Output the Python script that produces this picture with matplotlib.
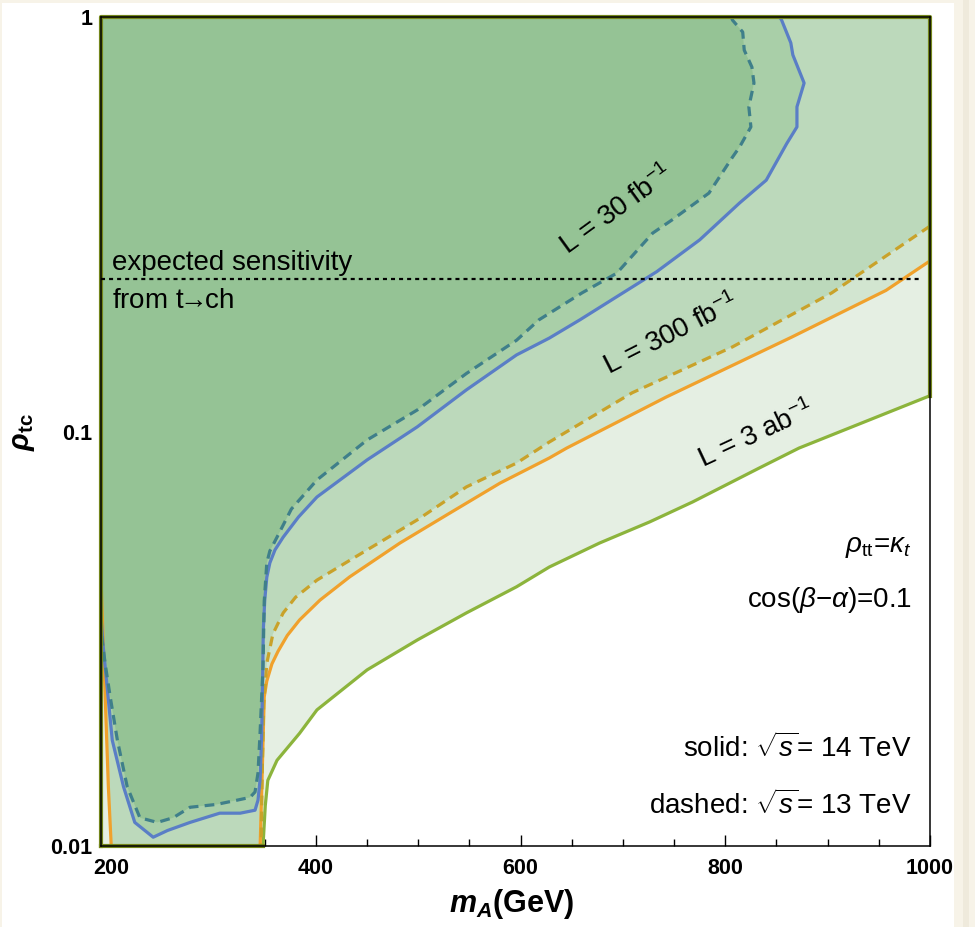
import numpy as np
import matplotlib.pyplot as plt
from matplotlib.patches import Polygon, Rectangle
from matplotlib.ticker import MultipleLocator, NullLocator

plt.rcParams['font.family'] = ['Liberation Sans', 'DejaVu Sans']
plt.rcParams['mathtext.fontset'] = 'custom'
plt.rcParams['mathtext.rm'] = 'Liberation Sans'
plt.rcParams['mathtext.it'] = 'Liberation Sans:italic'
plt.rcParams['mathtext.bf'] = 'Liberation Sans:bold'
plt.rcParams['mathtext.bfit'] = 'Liberation Sans:bold:italic'
plt.rcParams['lines.scale_dashes'] = False

# contour lines (m_A in GeV, rho_tc)
# L = 3 ab^-1, 14 TeV (green)
mass_3ab_14 = [1000, 872, 833, 768, 726, 677, 628, 596, 547, 499, 450, 401, 384, 362, 353, 350.5, 348.3]
rho_3ab_14 = [0.122, 0.0912, 0.0816, 0.0676, 0.0605, 0.0538, 0.0471, 0.0422, 0.0365, 0.0314, 0.0266, 0.0213,
              0.0187, 0.0161, 0.0144, 0.0125, 0.01]

# L = 300 fb^-1, 14 TeV (orange solid)
mass_300_14 = [1000, 957, 865, 742, 645, 628, 580, 531, 482, 433, 404, 384, 372, 363, 357, 352, 349.5, 347.5, 345.5]
rho_300_14 = [0.258, 0.219, 0.169, 0.121, 0.0912, 0.0863, 0.0751, 0.0636, 0.0538, 0.0446, 0.0392, 0.0351,
              0.0322, 0.0295, 0.0275, 0.025, 0.0229, 0.015, 0.01]
mass_300_left = [200, 197.2, 194.2, 190.7, 190]
rho_300_left = [0.01, 0.0139, 0.0225, 0.0392, 0.045]

# L = 300 fb^-1, 13 TeV (orange dashed)
mass_300_13 = [1000, 904, 807, 709, 628, 596, 547, 499, 450, 401, 380, 368, 358, 352, 349, 347.5, 346.5]
rho_300_13 = [0.313, 0.216, 0.160, 0.124, 0.0943, 0.0839, 0.0735, 0.0612, 0.0518, 0.0438, 0.0398, 0.0365, 0.0325,
              0.0276, 0.022, 0.015, 0.01]

# L = 30 fb^-1, 14 TeV (blue solid)
mass_30_14 = [853, 855, 864, 866, 877, 870, 870, 860, 840, 814, 775, 733, 658, 628, 596, 547, 499, 450, 401, 383,
              368, 360, 355, 352, 350, 348.6, 347.5, 347, 345.5, 343.4, 340.5, 326, 306, 277, 255, 241, 223, 212,
              201, 192.2, 190]
rho_30_14 = [1.0, 0.983, 0.866, 0.810, 0.693, 0.607, 0.543, 0.495, 0.404, 0.356, 0.290, 0.243, 0.186, 0.168, 0.153,
             0.126, 0.1026, 0.0854, 0.0695, 0.0622, 0.0556, 0.0518, 0.0482, 0.0445, 0.0392, 0.0332, 0.0217, 0.0187,
             0.0145, 0.0129, 0.0122, 0.0120, 0.0120, 0.0114, 0.0109, 0.0105, 0.0114, 0.0139, 0.018, 0.0302, 0.036]

# L = 30 fb^-1, 13 TeV (blue dashed)
mass_30_13 = [806, 807, 817, 818.5, 826, 828, 823, 825, 814, 807, 784, 748, 729, 694, 660, 618, 596, 547, 499, 450,
              401, 376, 362, 355, 352, 349.5, 348.3, 345.4, 343.4, 340.5, 335.6, 323, 303, 277, 260.5, 245, 228,
              215.6, 206, 199, 194, 190]
rho_30_13 = [1.0, 0.983, 0.920, 0.832, 0.757, 0.693, 0.607, 0.543, 0.486, 0.459, 0.376, 0.324, 0.301, 0.241, 0.216,
             0.186, 0.166, 0.138, 0.1127, 0.0954, 0.0764, 0.0650, 0.0556, 0.0515, 0.0482, 0.039, 0.027, 0.0187,
             0.015, 0.0135, 0.0131, 0.0129, 0.0126, 0.0124, 0.0117, 0.0114, 0.0117, 0.0139, 0.018, 0.0229, 0.0276,
             0.033]

tch_limit = 0.233
x_min, x_max = 190, 1000
y_min, y_max = 0.01, 1

fill_3ab = '#e5efe3'
fill_300_14 = '#d2e5d0'
fill_300_13 = '#bcd9bb'
fill_30_14 = '#a9cfa8'
fill_30_13 = '#95c395'
c_green = '#8cb43c'
c_orange = '#f0a12c'
c_orange_d = '#c9a22a'
c_blue = '#5a7ec6'
c_blue_d = '#3f7f8a'

fig = plt.figure(figsize=(9.75, 9.27), dpi=100, facecolor='#f7f3e8')
fig.patches.append(Rectangle((2 / 975, 0), 952 / 975, 924 / 927, transform=fig.transFigure,
                             facecolor='white', edgecolor='none', zorder=-2))
fig.patches.append(Rectangle((963 / 975, 0), 6 / 975, 1, transform=fig.transFigure,
                             facecolor='#efeadc', edgecolor='none', zorder=-2))

ax = fig.add_axes([101 / 975, 1 - 846 / 927, 829 / 975, 829 / 927])
ax.set_yscale('log')
ax.set_xlim(x_min, x_max)
ax.set_ylim(y_min, y_max)


def region(verts, color, z):
    ax.add_patch(Polygon(verts, closed=True, facecolor=color, edgecolor='none', zorder=z))


top = [(x_min, y_max), (x_max, y_max)]
region(top + list(zip(mass_3ab_14, rho_3ab_14)) + [(x_min, y_min)], fill_3ab, 1)
region(top + list(zip(mass_300_14, rho_300_14)) + list(zip(mass_300_left, rho_300_left)), fill_300_14, 2)
region(top + list(zip(mass_300_13, rho_300_13)) + list(zip(mass_300_left, rho_300_left)), fill_300_13, 3)
region([(x_min, y_max)] + list(zip(mass_30_14, rho_30_14)), fill_30_14, 4)
region([(x_min, y_max)] + list(zip(mass_30_13, rho_30_13)), fill_30_13, 5)

lw = 2.3
ax.plot(mass_3ab_14, rho_3ab_14, color=c_green, lw=lw, zorder=6)
ax.plot(mass_300_14, rho_300_14, color=c_orange, lw=lw, zorder=6)
ax.plot(mass_300_left, rho_300_left, color=c_orange, lw=lw, zorder=6)
ax.plot(mass_300_13, rho_300_13, color=c_orange_d, lw=lw, ls=(0, (7, 4.5)), zorder=6)
ax.plot(mass_30_14, rho_30_14, color=c_blue, lw=lw, zorder=7)
ax.plot(mass_30_13, rho_30_13, color=c_blue_d, lw=lw, ls=(0, (7, 4.5)), zorder=7)

# boundary of the outer region along the frame
ax.plot([x_min, x_min, x_max, x_max], [y_min, y_max, y_max, rho_3ab_14[0]], color='#74861c', lw=3,
        zorder=8, clip_on=False)
ax.plot([x_min, mass_3ab_14[-1]], [y_min, y_min], color='#74861c', lw=3, zorder=8, clip_on=False)

ax.plot([x_min, 992], [tch_limit, tch_limit], color='black', lw=1.6, ls=(0, (2.9, 2.9)), zorder=9)
ax.text(0.0133, 0.695, 'expected sensitivity', transform=ax.transAxes, fontsize=20, va='baseline', zorder=10)
ax.text(0.0133, 0.649, r'from t$\!\!\rightarrow\!\!$ch', transform=ax.transAxes, fontsize=20, va='baseline',
        zorder=10)

ax.text(693.7, 0.342, r'L = 30 fb$^{-1}$', fontsize=20, rotation=36, rotation_mode='anchor',
        ha='center', va='center', zorder=10)
ax.text(747.3, 0.171, r'L = 300 fb$^{-1}$', fontsize=20, rotation=27, rotation_mode='anchor',
        ha='center', va='center', zorder=10)
ax.text(830, 0.098, r'L = 3 ab$^{-1}$', fontsize=20, rotation=25, rotation_mode='anchor',
        ha='center', va='center', zorder=10)

ax.text(0.978, 0.3546, r'$\rho_{\rm tt}$=$\kappa_t$', transform=ax.transAxes, fontsize=20, ha='right', va='baseline')
ax.text(0.978, 0.2883, 'cos($\\beta$\u2212$\\alpha$)=0.1', transform=ax.transAxes, fontsize=20, ha='right',
        va='baseline')
ax.text(0.978, 0.1074, r'solid: $\sqrt{s}$= 14 TeV', transform=ax.transAxes, fontsize=20, ha='right',
        va='baseline')
ax.text(0.978, 0.0386, r'dashed: $\sqrt{s}$= 13 TeV', transform=ax.transAxes, fontsize=20, ha='right',
        va='baseline')

ax.set_xticks([200, 400, 600, 800, 1000])
ax.xaxis.set_minor_locator(MultipleLocator(50))
ax.set_yticks([0.01, 0.1, 1])
ax.set_yticklabels(['0.01', '0.1', '1'])
ax.yaxis.set_minor_locator(NullLocator())
ax.tick_params(which='both', direction='in', top=False, right=False, width=1, labelsize=15.5, zorder=12)
ax.tick_params(which='major', length=8)
ax.tick_params(which='minor', length=5)
ax.tick_params(axis='x', pad=9)
ax.tick_params(axis='y', pad=6)
for lbl in ax.get_xticklabels() + ax.get_yticklabels():
    lbl.set_fontweight('bold')
for sp in ax.spines.values():
    sp.set_linewidth(1.1)
    sp.set_zorder(11)

ax.set_xlabel(r'$\mathbfit{m}_{\mathbfit{A}}$(GeV)', fontsize=22, fontweight='bold')
ax.xaxis.set_label_coords(0.495, -0.05)
ax.set_ylabel(r'$\mathbfit{\rho}_{\mathbf{tc}}$', fontsize=21)
ax.yaxis.set_label_coords(-0.077, 0.5)

fig.savefig('out.png', dpi=100, facecolor=fig.get_facecolor())
